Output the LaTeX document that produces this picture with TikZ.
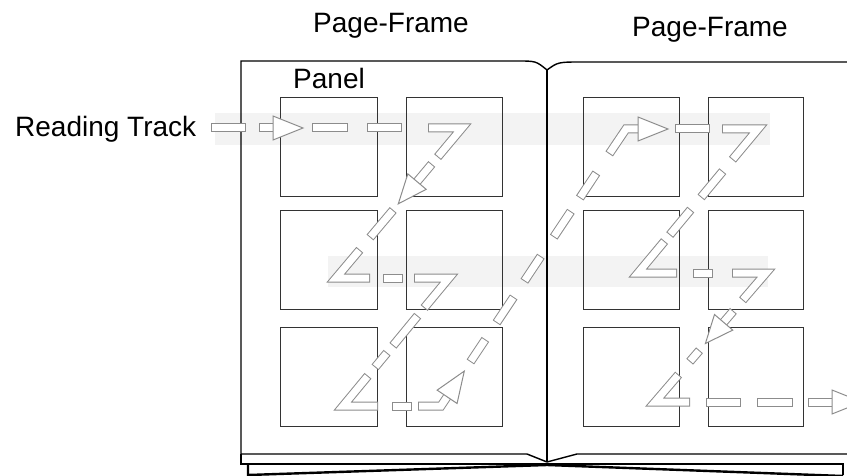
\documentclass[tikz,border=0pt]{standalone}
\usepackage{fontspec}
\setmainfont{Liberation Sans}
\usetikzlibrary{calc}
\definecolor{trackgray}{HTML}{8C8C8C}
\definecolor{panelgray}{HTML}{333333}
\definecolor{bandgray}{HTML}{F3F3F3}
% hollow arrowhead: #1 = tip, #2 = middle of the base
\newcommand\trackhead[2]{\draw[headstyle] (#1) -- ($(#2)!12pt!90:(#1)$) -- ($(#2)!12pt!-90:(#1)$) -- cycle;}
\tikzset{
  track/.style={draw=trackgray, line width=9pt, line join=miter,
    postaction={draw=white, line width=7pt, shorten <=1pt, shorten >=1pt}},
  headstyle/.style={draw=trackgray, fill=white, line width=1pt, line join=miter},
  panel/.style={draw=panelgray, line width=1.3pt, minimum width=96pt,
    minimum height=99pt, inner sep=0pt, anchor=north west},
  book/.style={draw=black, line width=1.4pt, line join=miter},
  lbl/.style={font=\fontsize{28}{32}\selectfont, inner sep=0pt, anchor=base west}
}
\begin{document}
\begin{tikzpicture}[x=1pt,y=-1pt]
\useasboundingbox (0,0) rectangle (847,476);
\clip (0,0) rectangle (847,476);

% faint bands behind the first two rows of the track
\fill[bandgray] (215,113) rectangle (770,145);
\fill[bandgray] (328,256) rectangle (768,287);

% the open book
\draw[book] (241,454) -- (241,61) -- (517,61) .. controls (536,61) .. (547,70);
\draw[book] (547,70) .. controls (558,62) .. (583,62) -- (850,62);
\draw[book] (547,70) -- (547,462);
\draw[book] (241,454) -- (527,454) -- (547,462) -- (577,454) -- (850,454);
\draw[book, line width=1.2pt] (241,454) -- (241,464) -- (843,464) -- (843,475);
\draw[book, line width=2.4pt] (248,464) -- (248,475) -- (547,465) -- (843,476);

% panels, left page
\node[panel, minimum width=97pt] (L11) at (280,97) {};
\node[panel] (L12) at (406,97) {};
\node[panel, minimum width=97pt] (L21) at (280,210) {};
\node[panel] (L22) at (406,210) {};
\node[panel, minimum width=97pt] (L31) at (280,327) {};
\node[panel] (L32) at (406,327) {};
% panels, right page
\node[panel] (R11) at (583,97) {};
\node[panel, minimum width=95pt] (R12) at (708,97) {};
\node[panel] (R21) at (583,210) {};
\node[panel, minimum width=95pt] (R22) at (708,210) {};
\node[panel] (R31) at (583,327) {};
\node[panel, minimum width=95pt] (R32) at (708,327) {};

% reading track, left page
\draw[track] (211,128) -- (246,128);
\draw[track] (259,128) -- (276,128);
\trackhead{303,128}{273,128}
\draw[track] (312,128) -- (348,128);
\draw[track] (367,128) -- (402,128);
\draw[track] (428,128) -- (462,128) -- (437.6,157.1);
\draw[track] (431.8,164.0) -- (415.7,183.2);
\trackhead{398.3,203.8}{417.0,181.6}
\draw[track] (393.2,210.0) -- (370.0,237.5);
\draw[track] (359.8,249.8) -- (336,278) -- (370,278);
\draw[track] (383,278) -- (403,278);
\draw[track] (414,278) -- (449,278) -- (424.1,308.0);
\draw[track] (417.7,315.7) -- (392.9,345.8);
\draw[track] (387.1,352.7) -- (375.0,367.3);
\draw[track] (368.0,375.8) -- (343,406) -- (378,406);
\draw[track] (392,406) -- (412,406);
\draw[track] (418,406) -- (441,406) -- (448.2,395.2);
\trackhead{464.3,371.1}{447.1,396.8}
\draw[track] (470.4,361.9) -- (485.4,339.4);
\draw[track] (496.5,322.8) -- (513.7,297.0);
\draw[track] (524.3,281.2) -- (540.9,256.2);
% reading track, right page
\draw[track] (553.7,237.1) -- (570.9,211.3);
\draw[track] (579.8,198.0) -- (596.4,173.0);
\draw[track] (609.2,153.9) -- (626,129) -- (640,129);
\trackhead{668,129}{638,129}
\draw[track] (675,129) -- (710,129);
\draw[track] (722,129) -- (758,129) -- (732.4,159.7);
\draw[track] (722.8,171.2) -- (701.0,197.4);
\draw[track] (690.8,209.6) -- (669.7,235.0);
\draw[track] (664.6,241.1) -- (638,273) -- (677,273);
\draw[track] (693,273) -- (713,273);
\draw[track] (732,273) -- (766,273) -- (742.5,300.3);
\draw[track] (733.4,310.9) -- (722.3,323.8);
\trackhead{705.4,343.5}{723.6,322.3}
\draw[track] (699.5,350.3) -- (689.7,361.7);
\draw[track] (678.6,374.6) -- (655,402) -- (690,402);
\draw[track] (706,402) -- (741,402);
\draw[track] (757,402) -- (793,402);
\draw[track] (808,402) -- (834,402);
\trackhead{862,402}{832,402}

% labels
\node[lbl] (pf1) at (313,33) {Page-Frame};
\node[lbl] (pf2) at (632,37) {Page-Frame};
\node[lbl] (pan) at (293,89) {Panel};
\node[lbl] (rt) at (15,137) {Reading Track};
\end{tikzpicture}
\end{document}
